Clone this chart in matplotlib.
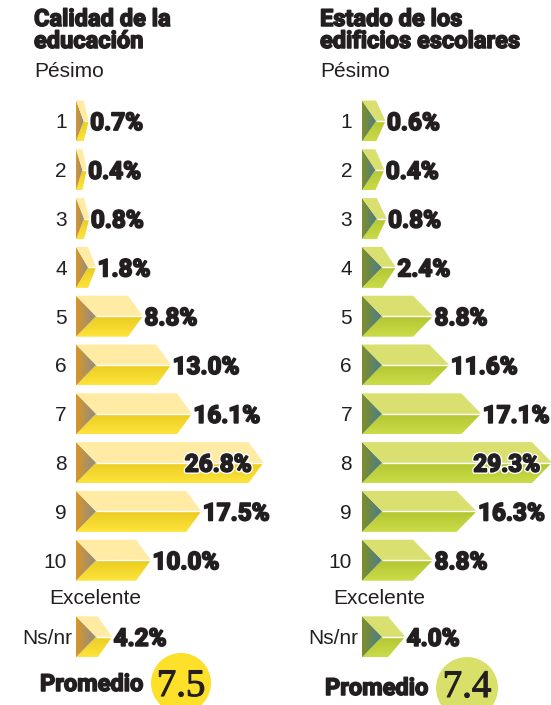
import numpy as np
import matplotlib
matplotlib.use("Agg")
import matplotlib.pyplot as plt
from matplotlib.patches import Polygon, Circle
import matplotlib.patheffects as pe
from matplotlib.colors import to_rgb

# ---------------- data ----------------
categories = ["1", "2", "3", "4", "5", "6", "7", "8", "9", "10"]
nsnr_label = "Ns/nr"
low_label = "Pésimo"
high_label = "Excelente"
avg_label = "Promedio"

edu_title = ["Calidad de la", "educación"]
edu_values = [0.7, 0.4, 0.8, 1.8, 8.8, 13.0, 16.1, 26.8, 17.5, 10.0]
edu_nsnr = 4.2
edu_avg = 7.5

bld_title = ["Estado de los", "edificios escolares"]
bld_values = [0.6, 0.4, 0.8, 2.4, 8.8, 11.6, 17.1, 29.3, 16.3, 8.8]
bld_nsnr = 4.0
bld_avg = 7.4

# ---------------- layout / style ----------------
W, H = 551, 705
fig = plt.figure(figsize=(W / 100, H / 100), dpi=100)
fig.patch.set_facecolor("white")

ROW0_PX = 121.0      # centre of first row (pixels from top)
ROW_PX = 48.8        # row pitch in pixels
NS_GAP = 0.57        # extra gap before Ns/nr row (in rows)
HALF = 0.42          # half bar height in rows
INK = "#231f20"

BOLD = dict(family=["Roboto", "DejaVu Sans"], weight="bold")
REG = dict(family=["Liberation Sans", "DejaVu Sans"])
HEAVY = [pe.Stroke(linewidth=1.1, foreground=INK), pe.Normal()]
HEAVY_W = [pe.Stroke(linewidth=3.2, foreground="white"),
           pe.Stroke(linewidth=1.3, foreground=INK), pe.Normal()]

panels = [
    dict(px0=0, px1=276, bar_px=76, zero_px=84, k=6.7, tip=15, tri=20,
         num_right=67, title_x=34, title=edu_title, values=edu_values,
         nsnr=edu_nsnr, avg=edu_avg, exc_x=49, ns_right=72,
         prom_x=40, prom_base=691, circ=(181, 683, 30), avg_base=696,
         top="#ffeba3", bot_c="#eccb1f", bot_e="#fde43c",
         tri_l="#d8962a", tri_r="#8e8d83", circ_col="#fde02a"),
    dict(px0=276, px1=551, bar_px=362, zero_px=382, k=5.8, tip=20, tri=20,
         num_right=352, title_x=320, title=bld_title, values=bld_values,
         nsnr=bld_nsnr, avg=bld_avg, exc_x=333, ns_right=358,
         prom_x=325, prom_base=695, circ=(467, 688, 31), avg_base=697,
         top="#d9e070", bot_c="#b3c530", bot_e="#cadc48",
         tri_l="#7f8f27", tri_r="#4a7c8c", circ_col="#d8e06a"),
]


def ftext(x, y, s, **kw):
    """text placed with pixel coordinates measured from the top-left"""
    return fig.text(x / W, 1 - y / H, s, **kw)


def grad(c1, c2, n=64, horizontal=True):
    a = np.array(to_rgb(c1))
    b = np.array(to_rgb(c2))
    t = np.linspace(0, 1, n)[:, None]
    g = a * (1 - t) + b * t
    if horizontal:
        return np.repeat(g[None, :, :], 2, axis=0)
    return np.repeat(g[:, None, :], 2, axis=1)


def draw_bar(ax, y, v, p):
    k = p["k"]
    x0 = (p["bar_px"] - p["zero_px"]) / k
    Lpx = (v - x0) * k
    d = min(p["tip"], 0.4 * Lpx) / k
    a = x0 + min(p["tri"], Lpx - d * k) / k
    re = v - d
    top = [(x0, y - HALF), (re, y - HALF), (v, y), (a, y)]
    bot = [(x0, y + HALF), (re, y + HALF), (v, y), (a, y)]
    tri = [(x0, y - HALF), (a, y), (x0, y + HALF)]

    ax.add_patch(Polygon(top, closed=True, facecolor=p["top"], edgecolor="none"))

    bpoly = Polygon(bot, closed=True, facecolor="none", edgecolor="none")
    ax.add_patch(bpoly)
    im = ax.imshow(grad(p["bot_c"], p["bot_e"], horizontal=False),
                   extent=(x0, v, y, y + HALF), origin="lower",
                   aspect="auto", interpolation="bilinear")
    im.set_clip_path(bpoly)

    tpoly = Polygon(tri, closed=True, facecolor="none", edgecolor="none")
    ax.add_patch(tpoly)
    im2 = ax.imshow(grad(p["tri_l"], p["tri_r"], horizontal=True),
                    extent=(x0, a, y - HALF, y + HALF), origin="lower",
                    aspect="auto", interpolation="bilinear")
    im2.set_clip_path(tpoly)

    ax.plot([a, v], [y, y], color="white", lw=1.0, solid_capstyle="butt")


renderer = fig.canvas.get_renderer()

for p in panels:
    ax = fig.add_axes([p["px0"] / W, 0, (p["px1"] - p["px0"]) / W, 1])
    ax.axis("off")
    k = p["k"]
    vals = list(p["values"]) + [p["nsnr"]]
    labels = list(categories) + [nsnr_label]
    ypos = list(range(len(categories))) + [len(categories) + NS_GAP]

    for v, y in zip(vals, ypos):
        draw_bar(ax, y, v, p)

    ax.set_xlim((p["px0"] - p["zero_px"]) / k, (p["px1"] - p["zero_px"]) / k)
    ax.set_ylim((H - ROW0_PX) / ROW_PX, -ROW0_PX / ROW_PX)

    # value labels
    for v, y in zip(vals, ypos):
        t = ax.text(v + 1.5 / k, y, f"{v:.1f}%", ha="left", va="center_baseline",
                    fontsize=17.5, color=INK, **BOLD, path_effects=HEAVY_W)
        ext = t.get_window_extent(renderer)
        if ext.x1 > p["px1"] + 6:
            t.set_position((v - 12 / k, y))
            t.set_ha("right")

    # row labels
    for lab, y in zip(labels, ypos):
        ypx = ROW0_PX + ROW_PX * y
        xr = p["ns_right"] if lab == nsnr_label else p["num_right"]
        ftext(xr, ypx, lab, ha="right", va="center_baseline",
              fontsize=15, color=INK, **REG)

    # titles & scale labels
    ftext(p["title_x"], 26, p["title"][0], ha="left", va="baseline",
          fontsize=17, color=INK, **BOLD, path_effects=HEAVY)
    ftext(p["title_x"], 48, p["title"][1], ha="left", va="baseline",
          fontsize=17, color=INK, **BOLD, path_effects=HEAVY)
    ftext(p["title_x"], 77, low_label, ha="left", va="baseline",
          fontsize=15, color=INK, **REG)
    ftext(p["exc_x"], 604, high_label, ha="left", va="baseline",
          fontsize=15, color=INK, **REG)

    # average
    cx, cy, r = p["circ"]
    fig.patches.append(Circle((cx / 100, (H - cy) / 100), r / 100,
                              transform=fig.dpi_scale_trans,
                              facecolor=p["circ_col"], edgecolor="none"))
    ftext(p["prom_x"], p["prom_base"], avg_label, ha="left", va="baseline",
          fontsize=17, color=INK, **BOLD, path_effects=HEAVY)
    ftext(cx, p["avg_base"], f"{p['avg']}", ha="center", va="baseline",
          fontsize=28, color=INK, family=["Liberation Serif", "DejaVu Serif"],
          path_effects=[pe.Stroke(linewidth=0.8, foreground=INK), pe.Normal()])

fig.savefig("out.png", dpi=100)
